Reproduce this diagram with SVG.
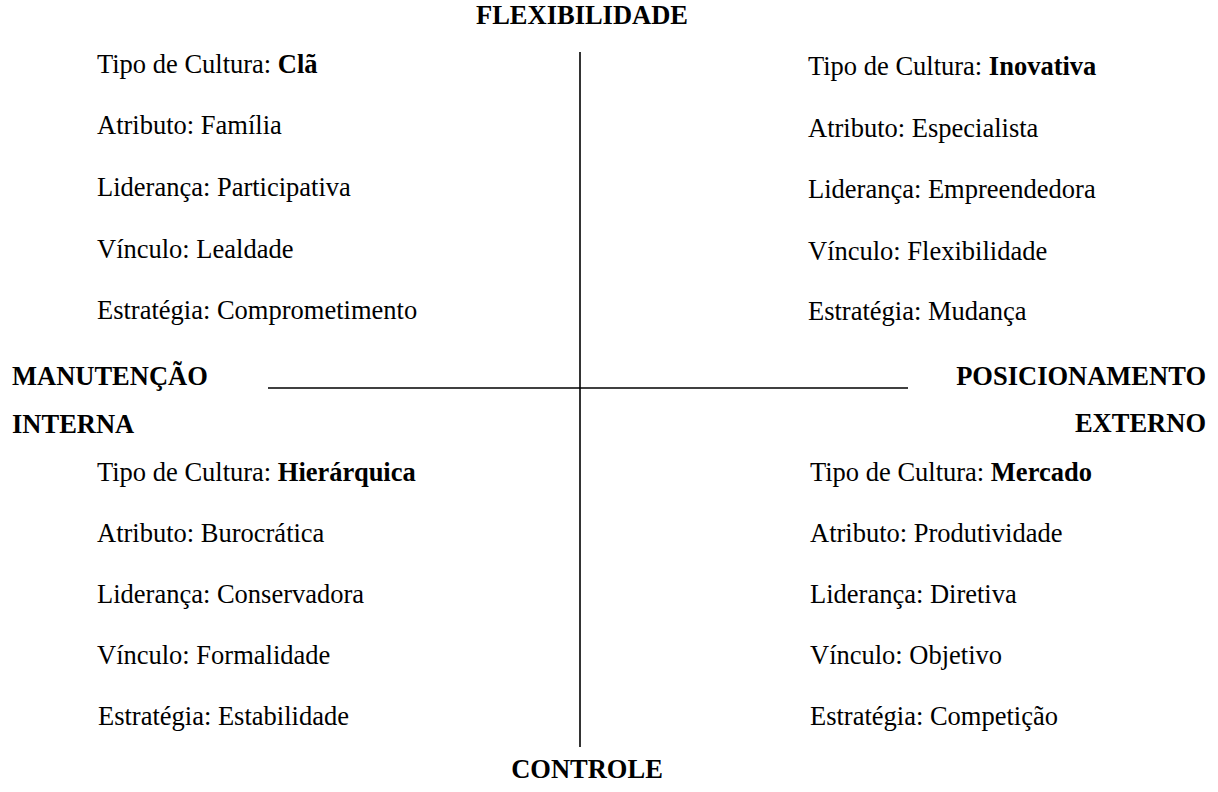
<svg xmlns="http://www.w3.org/2000/svg" width="1218" height="792" viewBox="0 0 1218 792">
<style>
text{font-family:"Liberation Serif","Times New Roman",serif;font-size:26.5px;fill:#000}
.b{font-weight:bold}
.axis{stroke:#000;stroke-width:1.6;fill:none}
</style>
<rect width="1218" height="792" fill="#fff"/>
<g id="connectors">
<line class="axis" x1="580" y1="52" x2="580" y2="747"/>
<line class="axis" x1="268" y1="388" x2="908" y2="388"/>
</g>
<g id="axis-labels">
<text class="b" x="582" y="24" text-anchor="middle">FLEXIBILIDADE</text>
<text class="b" x="587" y="778" text-anchor="middle">CONTROLE</text>
<text class="b" x="12" y="385">MANUTENÇÃO</text>
<text class="b" x="12" y="433">INTERNA</text>
<text class="b" x="1206" y="385" text-anchor="end">POSICIONAMENTO</text>
<text class="b" x="1206" y="432" text-anchor="end">EXTERNO</text>
</g>
<g id="cla">
<text x="97" y="73">Tipo de Cultura: <tspan class="b">Clã</tspan></text>
<text x="97" y="134">Atributo: Família</text>
<text x="97" y="196">Liderança: Participativa</text>
<text x="97" y="258">Vínculo: Lealdade</text>
<text x="97" y="319">Estratégia: Comprometimento</text>
</g>
<g id="inovativa">
<text x="808" y="75">Tipo de Cultura: <tspan class="b">Inovativa</tspan></text>
<text x="808" y="137">Atributo: Especialista</text>
<text x="808" y="198">Liderança: Empreendedora</text>
<text x="808" y="260">Vínculo: Flexibilidade</text>
<text x="808" y="320">Estratégia: Mudança</text>
</g>
<g id="hierarquica">
<text x="97" y="481">Tipo de Cultura: <tspan class="b">Hierárquica</tspan></text>
<text x="97" y="542">Atributo: Burocrática</text>
<text x="97" y="603">Liderança: Conservadora</text>
<text x="97" y="664">Vínculo: Formalidade</text>
<text x="98" y="725">Estratégia: Estabilidade</text>
</g>
<g id="mercado">
<text x="810" y="481">Tipo de Cultura: <tspan class="b">Mercado</tspan></text>
<text x="810" y="542">Atributo: Produtividade</text>
<text x="810" y="603">Liderança: Diretiva</text>
<text x="810" y="664">Vínculo: Objetivo</text>
<text x="810" y="725">Estratégia: Competição</text>
</g>
</svg>
